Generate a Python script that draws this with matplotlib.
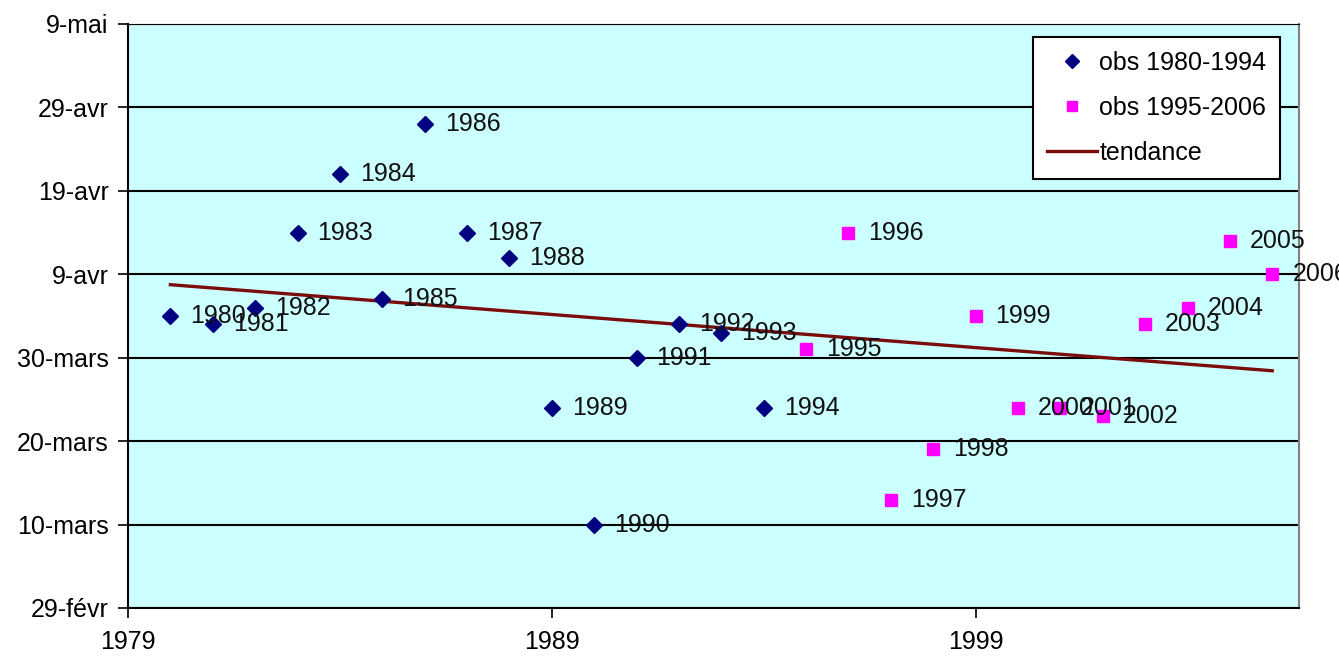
import numpy as np
import pandas as pd
import matplotlib
matplotlib.use("Agg")
import matplotlib.pyplot as plt
import matplotlib.dates as mdates

plt.rcParams['font.family'] = ['Liberation Sans', 'DejaVu Sans']

# dates d'apparition (jour/mois), annee de reference 2000 (bissextile)
annees_1 = [1980, 1981, 1982, 1983, 1984, 1985, 1986, 1987,
            1988, 1989, 1990, 1991, 1992, 1993, 1994]
dates_1 = ["04/04", "03/04", "05/04", "14/04", "21/04", "06/04", "27/04", "14/04",
           "11/04", "24/03", "10/03", "30/03", "03/04", "02/04", "24/03"]

annees_2 = [1995, 1996, 1997, 1998, 1999, 2000, 2001, 2002,
            2003, 2004, 2005, 2006]
dates_2 = ["31/03", "14/04", "13/03", "19/03", "04/04", "24/03", "24/03", "23/03",
           "03/04", "05/04", "13/04", "09/04"]

y_ticks = ["29/02", "10/03", "20/03", "30/03", "09/04", "19/04", "29/04", "09/05"]
y_labels = ["29-févr", "10-mars", "20-mars", "30-mars", "9-avr", "19-avr", "29-avr", "9-mai"]
x_ticks = [1979, 1989, 1999]


def to_num(lst):
    d = pd.to_datetime([s + "/2000" for s in lst], format="%d/%m/%Y")
    return mdates.date2num(d.to_pydatetime())


y1 = to_num(dates_1)
y2 = to_num(dates_2)
yt = to_num(y_ticks)

fig = plt.figure(figsize=(13.39, 6.61), dpi=100)
ax = fig.add_axes([0.0956, 0.0802, 0.8745, 0.8835])
ax.set_facecolor("#CCFFFF")

for v in yt:
    ax.axhline(v, color="black", lw=1.5, zorder=1)

ax.plot(annees_1, y1, ls="none", marker="D", ms=8, color="#000080",
        label="obs 1980-1994", zorder=3)
ax.plot(annees_2, y2, ls="none", marker="s", ms=8, color="#FF00FF",
        label="obs 1995-2006", zorder=3)

# droite de tendance (regression lineaire sur toutes les observations)
xa = np.array(annees_1 + annees_2)
ya = np.concatenate([y1, y2])
a, b = np.polyfit(xa, ya, 1)
xt = np.array([xa.min(), xa.max()])
ax.plot(xt, a * xt + b, color="#7A0C0C", lw=2.4, label="tendance", zorder=2)

for x, y in zip(xa, ya):
    ax.annotate(str(x), (x, y), xytext=(20, 0), textcoords="offset pixels",
                va="center", ha="left", fontsize=18, color="#111111", zorder=4)

ax.set_xlim(1979, 2006.63)
ax.set_ylim(yt[0], yt[-1])
ax.set_xticks(x_ticks)
ax.set_yticks(yt)
ax.set_yticklabels(y_labels)
ax.tick_params(axis="both", direction="out", length=7, width=1.2, labelsize=18,
               colors="black")
ax.tick_params(axis="y", pad=7)
ax.tick_params(axis="x", pad=9)

ax.spines["left"].set_color("black")
ax.spines["left"].set_linewidth(1.5)
ax.spines["bottom"].set_color("black")
ax.spines["bottom"].set_linewidth(1.5)
ax.spines["top"].set_color("black")
ax.spines["right"].set_color("#808080")
ax.spines["right"].set_linewidth(1.5)

leg = ax.legend(loc="upper right", bbox_to_anchor=(0.984, 0.978), fontsize=18,
                frameon=True, fancybox=False, edgecolor="black",
                handlelength=2.0, handletextpad=0.1, borderpad=0.55,
                labelspacing=0.85, numpoints=1, markerscale=0.95,
                borderaxespad=0)
leg.get_frame().set_linewidth(1.5)
leg.get_frame().set_facecolor("white")
leg.get_frame().set_alpha(1)

fig.savefig("out.png", dpi=100)
